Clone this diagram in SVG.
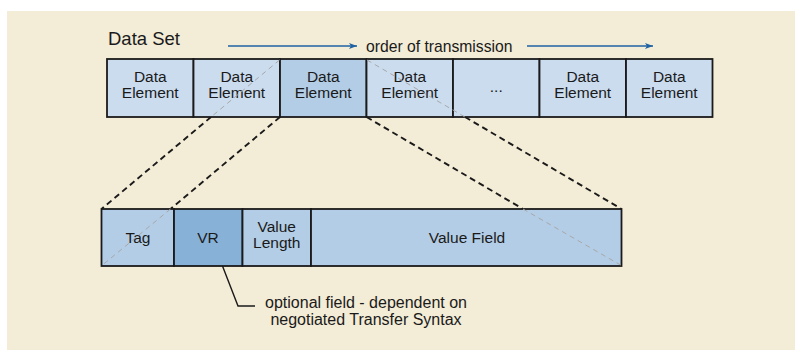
<svg xmlns="http://www.w3.org/2000/svg" width="795" height="350" viewBox="0 0 795 350">
<style>
text{font-family:"Liberation Sans",Arial,sans-serif;fill:#1a1a1a}
.lbl{font-size:15.5px;text-anchor:middle}
.box{stroke:#1a1a1a;stroke-width:1.8}
.top{fill:#cbdcef}
.hi{fill:#b3cde6}
.vr{fill:#88b1d8}
.bk{stroke:#1a1a1a;stroke-width:1.9;stroke-dasharray:6,4;fill:none}
.gr{stroke:#a8a8a8;stroke-width:1;stroke-dasharray:5,4;fill:none}
.arr{stroke:#1f62a3;stroke-width:1.4;fill:none;marker-end:url(#ah)}
</style>
<defs>
<marker id="ah" viewBox="0 0 8 6" refX="8" refY="3" markerWidth="8" markerHeight="6" markerUnits="userSpaceOnUse" orient="auto">
<path d="M0,0 L8,3 L0,6 L2,3 Z" fill="#1f62a3"/>
</marker>
</defs>
<rect x="0" y="0" width="795" height="350" fill="#ffffff"/>
<rect x="7" y="11" width="788" height="339" fill="#f3ecd6"/>

<text x="108" y="45" style="font-size:18.5px">Data Set</text>
<g id="order">
<line class="arr" x1="228" y1="46" x2="357" y2="46"/>
<text x="366" y="51.5" style="font-size:15.7px">order of transmission</text>
<line class="arr" x1="527" y1="46" x2="653" y2="46"/>
</g>

<g id="connectors">
<line class="bk" x1="211" y1="117" x2="101.5" y2="209"/>
<line class="bk" x1="280" y1="117" x2="170.5" y2="209"/>
<line class="bk" x1="465" y1="117" x2="621.5" y2="209"/>
<line class="bk" x1="366.5" y1="117" x2="523" y2="209"/>
<polyline points="219,257 238,306 255,306" fill="none" stroke="#1a1a1a" stroke-width="1.4"/>
</g>

<g id="de1"><rect class="box top" x="107" y="59" width="86.5" height="58"/><text class="lbl" x="150.25" y="82">Data</text><text class="lbl" x="150.25" y="97.5">Element</text></g>
<g id="de2"><rect class="box top" x="193.5" y="59" width="86.5" height="58"/><text class="lbl" x="236.75" y="82">Data</text><text class="lbl" x="236.75" y="97.5">Element</text></g>
<g id="de3"><rect class="box hi" x="280" y="59" width="86.5" height="58"/><text class="lbl" x="323.25" y="82">Data</text><text class="lbl" x="323.25" y="97.5">Element</text></g>
<g id="de4"><rect class="box top" x="366.5" y="59" width="86.5" height="58"/><text class="lbl" x="409.75" y="82">Data</text><text class="lbl" x="409.75" y="97.5">Element</text></g>
<g id="de5"><rect class="box top" x="453" y="59" width="86.5" height="58"/><text class="lbl" x="496.25" y="92">...</text></g>
<g id="de6"><rect class="box top" x="539.5" y="59" width="86.5" height="58"/><text class="lbl" x="582.75" y="82">Data</text><text class="lbl" x="582.75" y="97.5">Element</text></g>
<g id="de7"><rect class="box top" x="626" y="59" width="86.5" height="58"/><text class="lbl" x="669.25" y="82">Data</text><text class="lbl" x="669.25" y="97.5">Element</text></g>

<g id="tag"><rect class="box hi" x="101.5" y="209" width="72.5" height="57"/><text class="lbl" x="138" y="243">Tag</text></g>
<g id="vr"><rect class="box vr" x="174" y="209" width="68.5" height="57"/><text class="lbl" x="208" y="243">VR</text></g>
<g id="vl"><rect class="box hi" x="242.5" y="209" width="68.5" height="57"/><text class="lbl" x="276.75" y="232">Value</text><text class="lbl" x="276.75" y="248">Length</text></g>
<g id="vf"><rect class="box hi" x="311" y="209" width="310.5" height="57"/><text class="lbl" x="467" y="243">Value Field</text></g>

<g id="guides">
<line class="gr" x1="279.5" y1="60" x2="211" y2="117"/>
<line class="gr" x1="367" y1="60" x2="465" y2="117"/>
<line class="gr" x1="170.5" y1="209" x2="102.5" y2="265"/>
<line class="gr" x1="523" y1="209" x2="620.5" y2="265"/>
</g>

<g id="note">
<text x="366" y="308" style="font-size:16px;text-anchor:middle">optional field - dependent on</text>
<text x="366" y="325" style="font-size:16px;text-anchor:middle">negotiated Transfer Syntax</text>
</g>
</svg>
